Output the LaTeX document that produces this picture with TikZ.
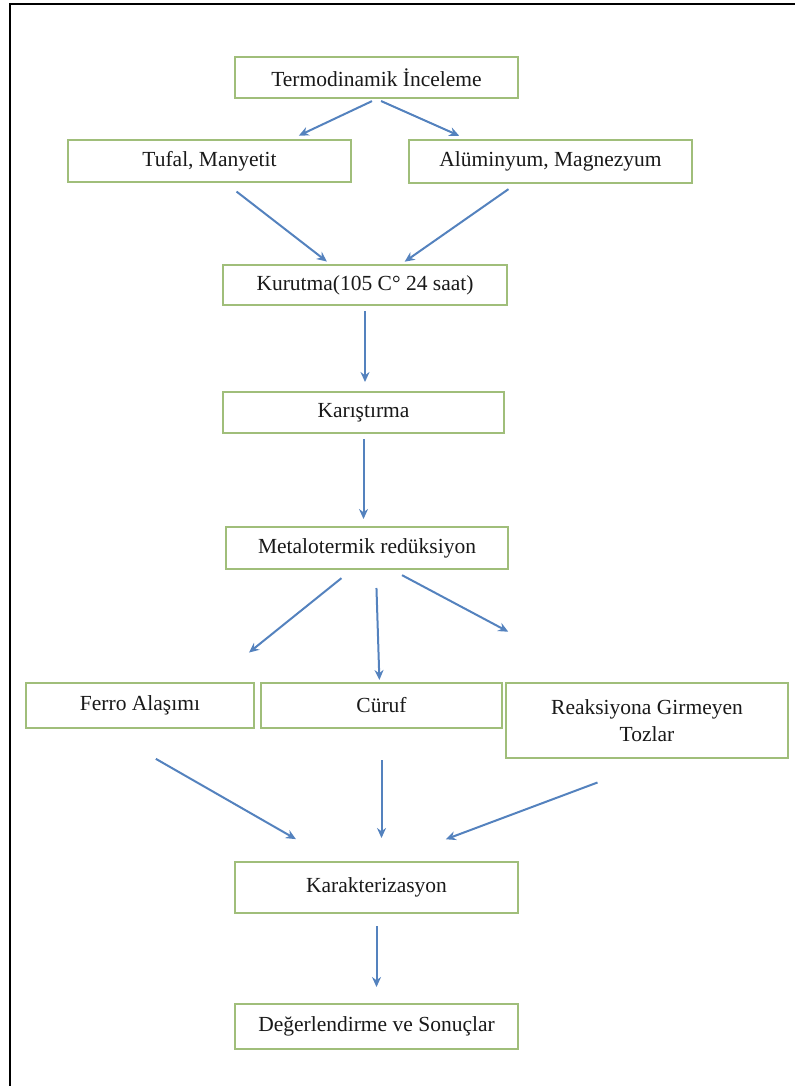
\documentclass[tikz,border=0pt]{standalone}
\usepackage{fontspec}
\setmainfont{Liberation Serif}
\usepackage{tikz}
\usetikzlibrary{arrows.meta}
\definecolor{boxgreen}{RGB}{160,190,122}
\definecolor{arrowblue}{RGB}{84,130,190}
\tikzset{flowbox/.style = {rectangle, draw=boxgreen, line width=2pt, fill=white, text=black!90, font=\fontsize{21.5}{27}\selectfont, align=center, inner sep=0pt, minimum height=42pt}}
\tikzset{procbox/.style = {flowbox, minimum width=283pt}}
\tikzset{arrow/.style={draw=arrowblue, line width=2pt, ->, >={Stealth[length=10pt,width=9pt]}}}
\tikzset{frameline/.style={draw=black, line width=2.5pt}}

\begin{document}
\begin{tikzpicture}[x=1pt,y=-1pt]
\useasboundingbox (0,0) rectangle (795,1086);
\draw [frameline] (10,1086) -- (10,4) -- (795,4);

\node [procbox, minimum height=41pt] (termo) at (376.5,77.5) {Termodinamik İnceleme};
\node [procbox] (tufal) at (209.5,161) {Tufal, Manyetit};
\node [procbox, minimum height=43pt] (alum) at (550.5,161.5) {Alüminyum, Magnezyum};
\node [procbox, minimum width=284pt, minimum height=40pt] (kurutma) at (365,285) {Kurutma(105 C° 24 saat)};
\node [procbox, minimum width=281pt, minimum height=41pt] (karis) at (363.5,412.5) {Karıştırma};
\node [procbox, minimum width=282pt] (metal) at (367,548) {Metalotermik redüksiyon};
\node [flowbox, minimum width=228pt, minimum height=45pt] (ferro) at (140,705.5) {Ferro Alaşımı};
\node [flowbox, minimum width=241pt, minimum height=45pt] (curuf) at (381.5,705.5) {Cüruf};
\node [flowbox, minimum width=282pt, minimum height=75pt] (reaksiyon) at (647,720.5) {Reaksiyona Girmeyen\\Tozlar};
\node [procbox, minimum height=51pt] (karak) at (376.5,887.5) {Karakterizasyon};
\node [procbox, minimum height=45pt] (sonuc) at (376.5,1026.5) {Değerlendirme ve Sonuçlar};

\draw [arrow, shorten <=5pt, shorten >=8pt] (termo.south) -- (tufal.15);
\draw [arrow, shorten <=5pt, shorten >=8pt] (termo.south) -- (alum.165);
\draw [arrow, shorten <=14pt, shorten >=4pt] (tufal.-54) -- (kurutma.149);
\draw [arrow, shorten <=9pt, shorten >=4pt] (alum.-147) -- (kurutma.30);
\draw [arrow, shorten <=5pt, shorten >=9pt] (kurutma.south) -- (kurutma.south |- karis.north);
\draw [arrow, shorten <=5pt, shorten >=7pt] (karis.south) -- (karis.south |- metal.north);
\draw [arrow, shorten <=13pt, shorten >=47pt] (metal.-125) -- (ferro.18);
\draw [arrow, shorten <=18pt, shorten >=2pt] (metal.-68) -- (curuf.95);
\draw [arrow, shorten <=11pt, shorten >=107pt] (metal.-41) -- (reaksiyon.139);
\draw [arrow, shorten <=60pt, shorten >=44pt] (ferro.-147) -- (karak.148);
\draw [arrow, shorten <=31pt, shorten >=23pt] (curuf.south) -- (curuf.south |- karak.north);
\draw [arrow, shorten <=67pt, shorten >=62pt] (reaksiyon.-71) -- (karak.67);
\draw [arrow, shorten <=12pt, shorten >=16pt] (karak.south) -- (sonuc.north);
\end{tikzpicture}
\end{document}
